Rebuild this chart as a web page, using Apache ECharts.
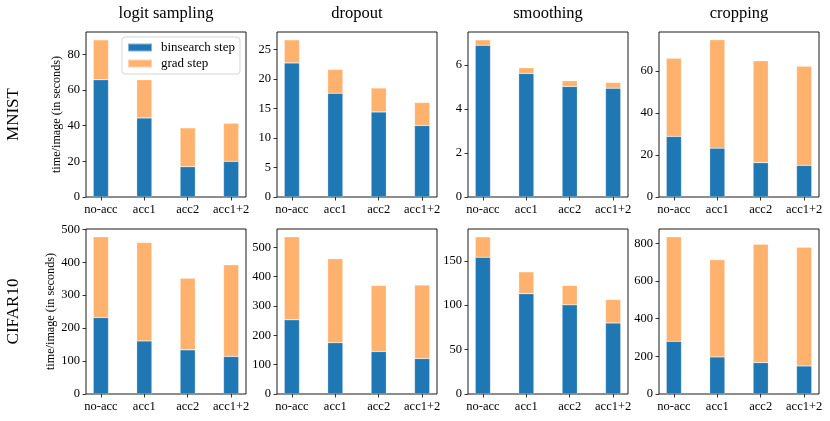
<!DOCTYPE html>
<html><head><meta charset="utf-8">
<script src="https://cdn.jsdelivr.net/npm/echarts@6/dist/echarts.min.js"></script>
<style>html,body{margin:0;padding:0;background:#fff}#c{width:830px;height:421px}</style>
</head><body><div id="c"></div>
<script>
const categories = ['no-acc', 'acc1', 'acc2', 'acc1+2'];
const panelTitles = ['logit sampling', 'dropout', 'smoothing', 'cropping'];
const rowLabels = ['MNIST', 'CIFAR10'];
const yLabel = 'time/image (in seconds)';
const legendNames = ['binsearch step', 'grad step'];

// MNIST row: binsearch step and totals
const mnistLogitBin = [65.8, 44.4, 17.0, 20.0];
const mnistLogitTotal = [88.2, 65.8, 38.8, 41.4];
const mnistDropoutBin = [22.7, 17.55, 14.4, 12.1];
const mnistDropoutTotal = [26.6, 21.6, 18.45, 16.0];
const mnistSmoothBin = [6.9, 5.62, 5.03, 4.95];
const mnistSmoothTotal = [7.15, 5.88, 5.29, 5.21];
const mnistCropBin = [28.9, 23.3, 16.4, 15.1];
const mnistCropTotal = [66.2, 74.95, 64.95, 62.4];
// CIFAR10 row
const cifarLogitBin = [232, 161, 134, 114];
const cifarLogitTotal = [477, 459.5, 351, 392];
const cifarDropoutBin = [253, 175, 145, 121];
const cifarDropoutTotal = [536, 461, 370, 372];
const cifarSmoothBin = [154, 113, 100.4, 80];
const cifarSmoothTotal = [177, 137.6, 122.2, 106.4];
const cifarCropBin = [280, 197, 167, 149];
const cifarCropTotal = [835, 713, 796, 780];

// y tick spacing per panel
const yIntervals = [20, 5, 2, 20, 100, 100, 50, 200];

const bins = [mnistLogitBin, mnistDropoutBin, mnistSmoothBin, mnistCropBin,
              cifarLogitBin, cifarDropoutBin, cifarSmoothBin, cifarCropBin];
const totals = [mnistLogitTotal, mnistDropoutTotal, mnistSmoothTotal, mnistCropTotal,
                cifarLogitTotal, cifarDropoutTotal, cifarSmoothTotal, cifarCropTotal];

const FONT = 'Liberation Serif';
const lefts = [86, 277, 468, 659];
const tops = [32, 229];
const yLabelX = [57, 51];
const W = 160, H = 165;
const barW = 0.35;
const pad = barW / 2 + 0.05 * (3 + barW);   // matplotlib-like x margin (in category units)
const unit = W / (3 + 2 * pad);
const barPx = barW * unit;
const BLUE = '#1f77b4', ORANGE = '#ffb26e';
const tickStyle = {color: '#000', width: 0.8};

const grid = [], xAxis = [], yAxis = [], series = [], graphic = [];
for (let i = 0; i < 8; i++) {
  const r = Math.floor(i / 4), c = i % 4;
  const mx = Math.max(...totals[i]) * 1.05;
  // visible frame + y axis
  grid.push({left: lefts[c], top: tops[r], width: W, height: H, show: true,
    borderColor: '#000', borderWidth: 0.9, backgroundColor: 'transparent'});
  xAxis.push({type: 'value', gridIndex: 2 * i, min: 0, max: 1, show: false});
  yAxis.push({type: 'value', gridIndex: 2 * i, min: 0, max: mx, interval: yIntervals[i],
    axisLine: {show: false}, splitLine: {show: false},
    axisTick: {show: true, inside: false, length: 3.5, lineStyle: tickStyle},
    axisLabel: {showMaxLabel: false, margin: 6, fontFamily: FONT, fontSize: 12.5, color: '#000'}});
  // category grid, widened so category centres sit where matplotlib puts them
  const gl = lefts[c] + (pad - 0.5) * unit;
  grid.push({left: gl, top: tops[r], width: 4 * unit, height: H, show: false});
  xAxis.push({type: 'category', gridIndex: 2 * i + 1, data: categories, boundaryGap: true,
    axisLine: {show: false}, splitLine: {show: false},
    axisTick: {show: true, alignWithLabel: true, inside: false, length: 3.5, lineStyle: tickStyle},
    axisLabel: {interval: 0, margin: 6, fontFamily: FONT, fontSize: 12.5, color: '#000'}});
  yAxis.push({type: 'value', gridIndex: 2 * i + 1, min: 0, max: mx, show: false});
  const b = bins[i], t = totals[i];
  series.push({type: 'bar', name: legendNames[0], xAxisIndex: 2 * i + 1, yAxisIndex: 2 * i + 1, stack: 's' + i,
    barWidth: barPx, itemStyle: {color: BLUE, borderColor: 'rgba(255,255,255,0.45)', borderWidth: 0.5},
    data: b, animation: false});
  series.push({type: 'bar', name: legendNames[1], xAxisIndex: 2 * i + 1, yAxisIndex: 2 * i + 1, stack: 's' + i,
    barWidth: barPx, itemStyle: {color: ORANGE, borderColor: 'rgba(255,255,255,0.45)', borderWidth: 0.5},
    data: t.map((v, k) => +(v - b[k]).toFixed(3)), animation: false});
}
for (let c = 0; c < 4; c++) {
  graphic.push({type: 'text', x: lefts[c] + W / 2, y: 14,
    style: {text: panelTitles[c], font: '16.5px "' + FONT + '"', fill: '#000', textAlign: 'center', textVerticalAlign: 'middle'}});
}
for (let r = 0; r < 2; r++) {
  const cy = tops[r] + H / 2;
  graphic.push({type: 'text', x: 14, y: cy, rotation: Math.PI / 2,
    style: {text: rowLabels[r], font: '17px "' + FONT + '"', fill: '#000', textAlign: 'center', textVerticalAlign: 'middle'}});
  graphic.push({type: 'text', x: yLabelX[r], y: cy, rotation: Math.PI / 2,
    style: {text: yLabel, font: '12.2px "' + FONT + '"', fill: '#000', textAlign: 'center', textVerticalAlign: 'middle'}});
}

const chart = echarts.init(document.getElementById('c'), null, {renderer: 'canvas'});
chart.setOption({
  animation: false,
  grid, xAxis, yAxis, series, graphic,
  legend: {data: legendNames, orient: 'vertical', left: 122, top: 37, itemWidth: 24, itemHeight: 8, itemGap: 3,
    icon: 'rect', padding: [4, 5, 4, 5], borderColor: '#d5d5d5', borderWidth: 1, borderRadius: 3,
    backgroundColor: 'rgba(255,255,255,0.85)',
    textStyle: {fontFamily: FONT, fontSize: 13, color: '#000', padding: [0, 0, 0, 4]}}
});
</script></body></html>
